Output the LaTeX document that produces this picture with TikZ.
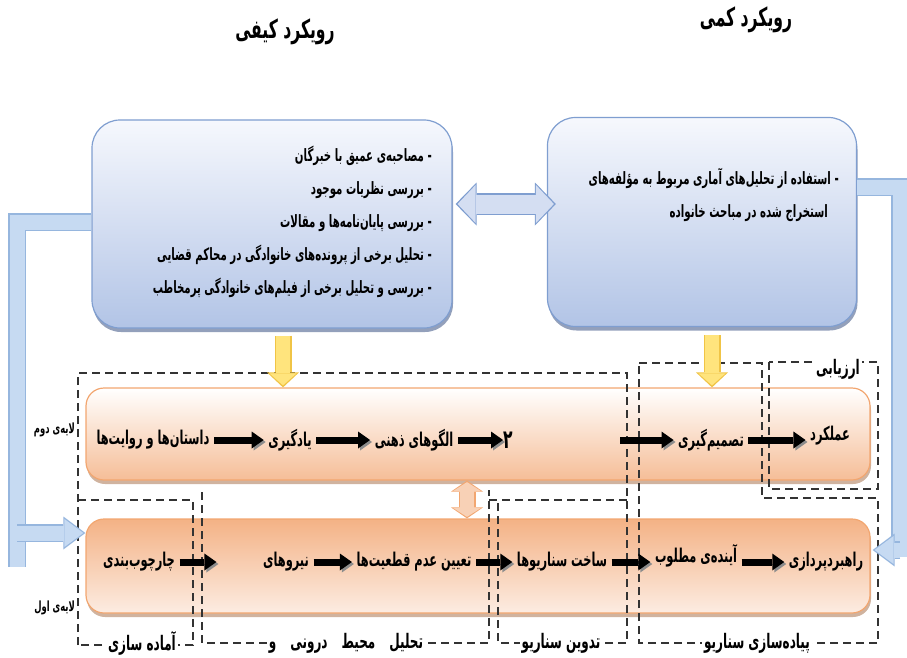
\documentclass[tikz,border=0pt]{standalone}
\usepackage{fontspec}
\usepackage{tikz}
\usetikzlibrary{arrows.meta,shadows}
\newfontfamily\fa[Script=Arabic,FakeStretch=0.6]{DejaVu Sans}
\TeXXeTstate=1
\definecolor{blueedge}{RGB}{127,158,208}
\definecolor{bluetop}{RGB}{246,248,253}
\definecolor{bluebot}{RGB}{178,196,230}
\definecolor{blueshadow}{RGB}{120,136,170}
\definecolor{orangeedge}{RGB}{242,166,112}
\definecolor{orangedark}{RGB}{244,178,133}
\definecolor{orangelight}{RGB}{252,236,226}
\definecolor{orangeshadow}{RGB}{196,160,135}
\definecolor{pipefill}{RGB}{198,218,242}
\definecolor{pipeedge}{RGB}{150,182,222}
\definecolor{yellowfill}{RGB}{255,228,125}
\definecolor{yellowedge}{RGB}{240,196,70}

\begin{document}
\begin{tikzpicture}[x=1pt,y=-1pt,
  title/.style={font=\fa\bfseries\fontsize{26}{28}\selectfont},
  txt/.style={font=\fa\bfseries\fontsize{19}{21}\selectfont, inner sep=4.5pt},
  boxtxt/.style={font=\fa\bfseries\fontsize{17}{33}\selectfont, align=right, inner sep=0pt},
  lbl/.style={font=\fa\bfseries\fontsize{20}{22}\selectfont, fill=white, inner sep=2pt},
  layer/.style={font=\fa\bfseries\fontsize{14}{16}\selectfont, inner sep=1pt, anchor=east},
  bluebox/.style={draw=blueedge, line width=1.2pt, rounded corners=28pt,
    top color=bluetop, bottom color=bluebot,
    drop shadow={shadow xshift=1pt, shadow yshift=-4pt, fill=blueshadow, opacity=.8}},
  orangebox/.style={draw=orangeedge, line width=1.2pt, rounded corners=18pt,
    drop shadow={shadow xshift=1pt, shadow yshift=-4pt, fill=orangeshadow, opacity=.8}},
  dashbox/.style={draw=black!80, line width=1.1pt, dash pattern=on 8pt off 5pt},
  blk/.style={line width=7pt, -{Triangle[length=12pt,width=17pt,line width=0pt]},
    preaction={draw=black!45, transform canvas={shift={(2pt,-2pt)}}}},
  pipe/.style={line width=15pt, draw=pipefill, preaction={draw=pipeedge, line width=18pt}},
  pipearr/.style={line width=15pt, draw=pipefill, shorten >=2pt,
    -{Triangle[length=19pt,width=28pt,line width=0pt]},
    preaction={draw=pipeedge, line width=18pt, shorten >=0pt,
      -{Triangle[length=22pt,width=33pt,line width=0pt]}}},
  bluedbl/.style={line width=19pt, draw=bluetop!50!bluebot, shorten <=2pt, shorten >=2pt,
    {Triangle[length=18pt,width=38pt,line width=0pt]}-{Triangle[length=18pt,width=38pt,line width=0pt]},
    preaction={draw=blueedge, line width=22pt, shorten <=0pt, shorten >=0pt,
      {Triangle[length=21pt,width=43pt,line width=0pt]}-{Triangle[length=21pt,width=43pt,line width=0pt]}}},
  yellowarr/.style={line width=14pt, draw=yellowfill, shorten >=2pt,
    -{Triangle[length=12pt,width=27pt,line width=0pt]},
    preaction={draw=yellowedge, line width=17pt, shorten >=0pt,
      -{Triangle[length=15pt,width=32pt,line width=0pt]}}},
  orangedbl/.style={line width=14pt, draw=orangedark!60!white, shorten <=1.5pt, shorten >=1.5pt,
    {Triangle[length=9pt,width=28pt,line width=0pt]}-{Triangle[length=9pt,width=28pt,line width=0pt]},
    preaction={draw=orangeedge, line width=17pt, shorten <=0pt, shorten >=0pt,
      {Triangle[length=11pt,width=32pt,line width=0pt]}-{Triangle[length=11pt,width=32pt,line width=0pt]}}}]
\useasboundingbox (0,0) rectangle (907,658);

% titles
\node [title] (qtitle) at (285,32) {\beginR رویکرد کیفی\endR};
\node [title] (ntitle) at (746,20) {\beginR رویکرد کمی\endR};

% approach boxes
\node [bluebox, minimum width=360pt, minimum height=208pt] (qual) at (272,224) {};
\node [bluebox, minimum width=309pt, minimum height=209pt] (quant) at (702,222) {};
\node [boxtxt, anchor=east] (qualtxt) at (432,222) {%
  \beginR - مصاحبه^^^^200cی عمیق با خبرگان\endR\\
  \beginR - بررسی نظریات موجود\endR\\
  \beginR - بررسی پایان^^^^200cنامه^^^^200cها و مقالات\endR\\
  \beginR - تحلیل برخی از پرونده^^^^200cهای خانوادگی در محاکم قضایی\endR\\
  \beginR - بررسی و تحلیل برخی از فیلم^^^^200cهای خانوادگی پرمخاطب\endR};
\node [boxtxt, anchor=north east] (quanttxt) at (839,168) {%
  \beginR - استفاده از تحلیل^^^^200cهای آماری مربوط به مؤلفه^^^^200cهای\endR\\
  \beginR استخراج شده در مباحث خانواده\endR\hspace*{11pt}};

% layer boxes
\node [orangebox, minimum width=784pt, minimum height=92pt, top color=white, bottom color=orangedark!85] (layer2) at (478,434) {};
\node [orangebox, minimum width=784pt, minimum height=94pt, top color=orangedark, bottom color=orangelight] (layer1) at (478,566) {};

% dashed stage frames
\draw [dashbox] (78,645) -- (78,373) -- (627,373) -- (627,643) -- (498,643) -- (498,500);
\draw [dashbox] (78,500) -- (193,500) -- (193,645) -- (78,645);
\draw [dashbox] (202,492) -- (202,643) -- (489,643) -- (489,490);
\draw [dashbox] (489,500) -- (627,500);
\draw [dashbox] (639,363) -- (762,363) -- (762,498) -- (878,498) -- (878,643) -- (639,643) -- cycle;
\draw [dashbox] (769,362) rectangle (878,489);

% stage labels
\node [lbl] (prep) at (142,643) {\beginR آماده سازی\endR};
\node [lbl] (analyse) at (346,643) {\beginR تحلیل\hspace{14pt}محیط\hspace{14pt}درونی\hspace{14pt}و\endR};
\node [lbl] (write) at (561,643) {\beginR تدوین سناریو\endR};
\node [lbl] (apply) at (757,643) {\beginR پیاده^^^^200cسازی سناریو\endR};
\node [lbl] (assess) at (838,369) {\beginR ارزیابی\endR};
\node [layer] (second) at (76,430) {\beginR لایه^^^^200cی دوم\endR};
\node [layer] (first) at (76,608) {\beginR لایه^^^^200cی اول\endR};

% second layer steps
\node [txt] (story) at (153,440) {\beginR داستان^^^^200cها و روایت^^^^200cها\endR};
\node [txt] (learn) at (290,440) {\beginR یادگیری\endR};
\node [txt] (mental) at (414,440) {\beginR الگوهای ذهنی\endR};
\node [txt, font=\fa\bfseries\fontsize{26}{28}\selectfont, inner sep=0pt] (two) at (508,440) {\beginR ۲\endR};
\node [txt] (decide) at (711,440) {\beginR تصمیم^^^^200cگیری\endR};
\node [txt] (perf) at (830,436) {\beginR عملکرد\endR};
\coordinate (dstart) at (620,440);

% first layer steps
\node [txt] (frame) at (139,562) {\beginR چارچوب^^^^200cبندی\endR};
\node [txt] (forces) at (286,562) {\beginR نیروهای\endR};
\node [txt] (uncert) at (414,562) {\beginR تعیین عدم قطعیت^^^^200cها\endR};
\node [txt] (build) at (562,562) {\beginR ساخت سناریوها\endR};
\node [txt] (future) at (696,556) {\beginR آینده^^^^200cی مطلوب\endR};
\node [txt] (strat) at (826,562) {\beginR راهبردپردازی\endR};

% step arrows
\draw [blk] (story) -- (learn);
\draw [blk] (learn) -- (mental);
\draw [blk] (mental) -- (two);
\draw [blk] (dstart) -- (decide);
\draw [blk] (decide) -- (decide -| perf.west);
\draw [blk, shorten >=42pt] (frame) -- (forces);
\draw [blk] (forces) -- (uncert);
\draw [blk] (uncert) -- (build);
\draw [blk] (build) -- (build -| future.west);
\draw [blk] (future.east |- strat) -- (strat);

% feedback pipes
\coordinate (lrail) at (17,567);
\coordinate (lfork) at (17,533);
\coordinate (rrail) at (900,557);
\coordinate (rfork) at (900,550);
\draw [pipe] ([yshift=2]qual.west) -| (lrail);
\draw [pipearr] (lfork) -- ([yshift=33]layer1.west);
\draw [pipe] ([yshift=35]quant.east) -| (rrail);
\draw [pipearr] (rfork) -- ([xshift=2,yshift=16]layer1.east);

% links between boxes
\draw [bluedbl] ([xshift=3,yshift=20]qual.east) -- ([xshift=9,yshift=18]quant.west);
\coordinate (ya) at ([xshift=11,yshift=-7]qual.south);
\coordinate (yb) at ([xshift=10,yshift=-8]quant.south);
\draw [yellowarr] (ya) -- (ya |- layer2.north);
\draw [yellowarr] (yb) -- (yb |- layer2.north);
\coordinate (ob) at ([xshift=-11]layer2.south);
\draw [orangedbl] (ob) -- (ob |- layer1.north);
\end{tikzpicture}
\end{document}
